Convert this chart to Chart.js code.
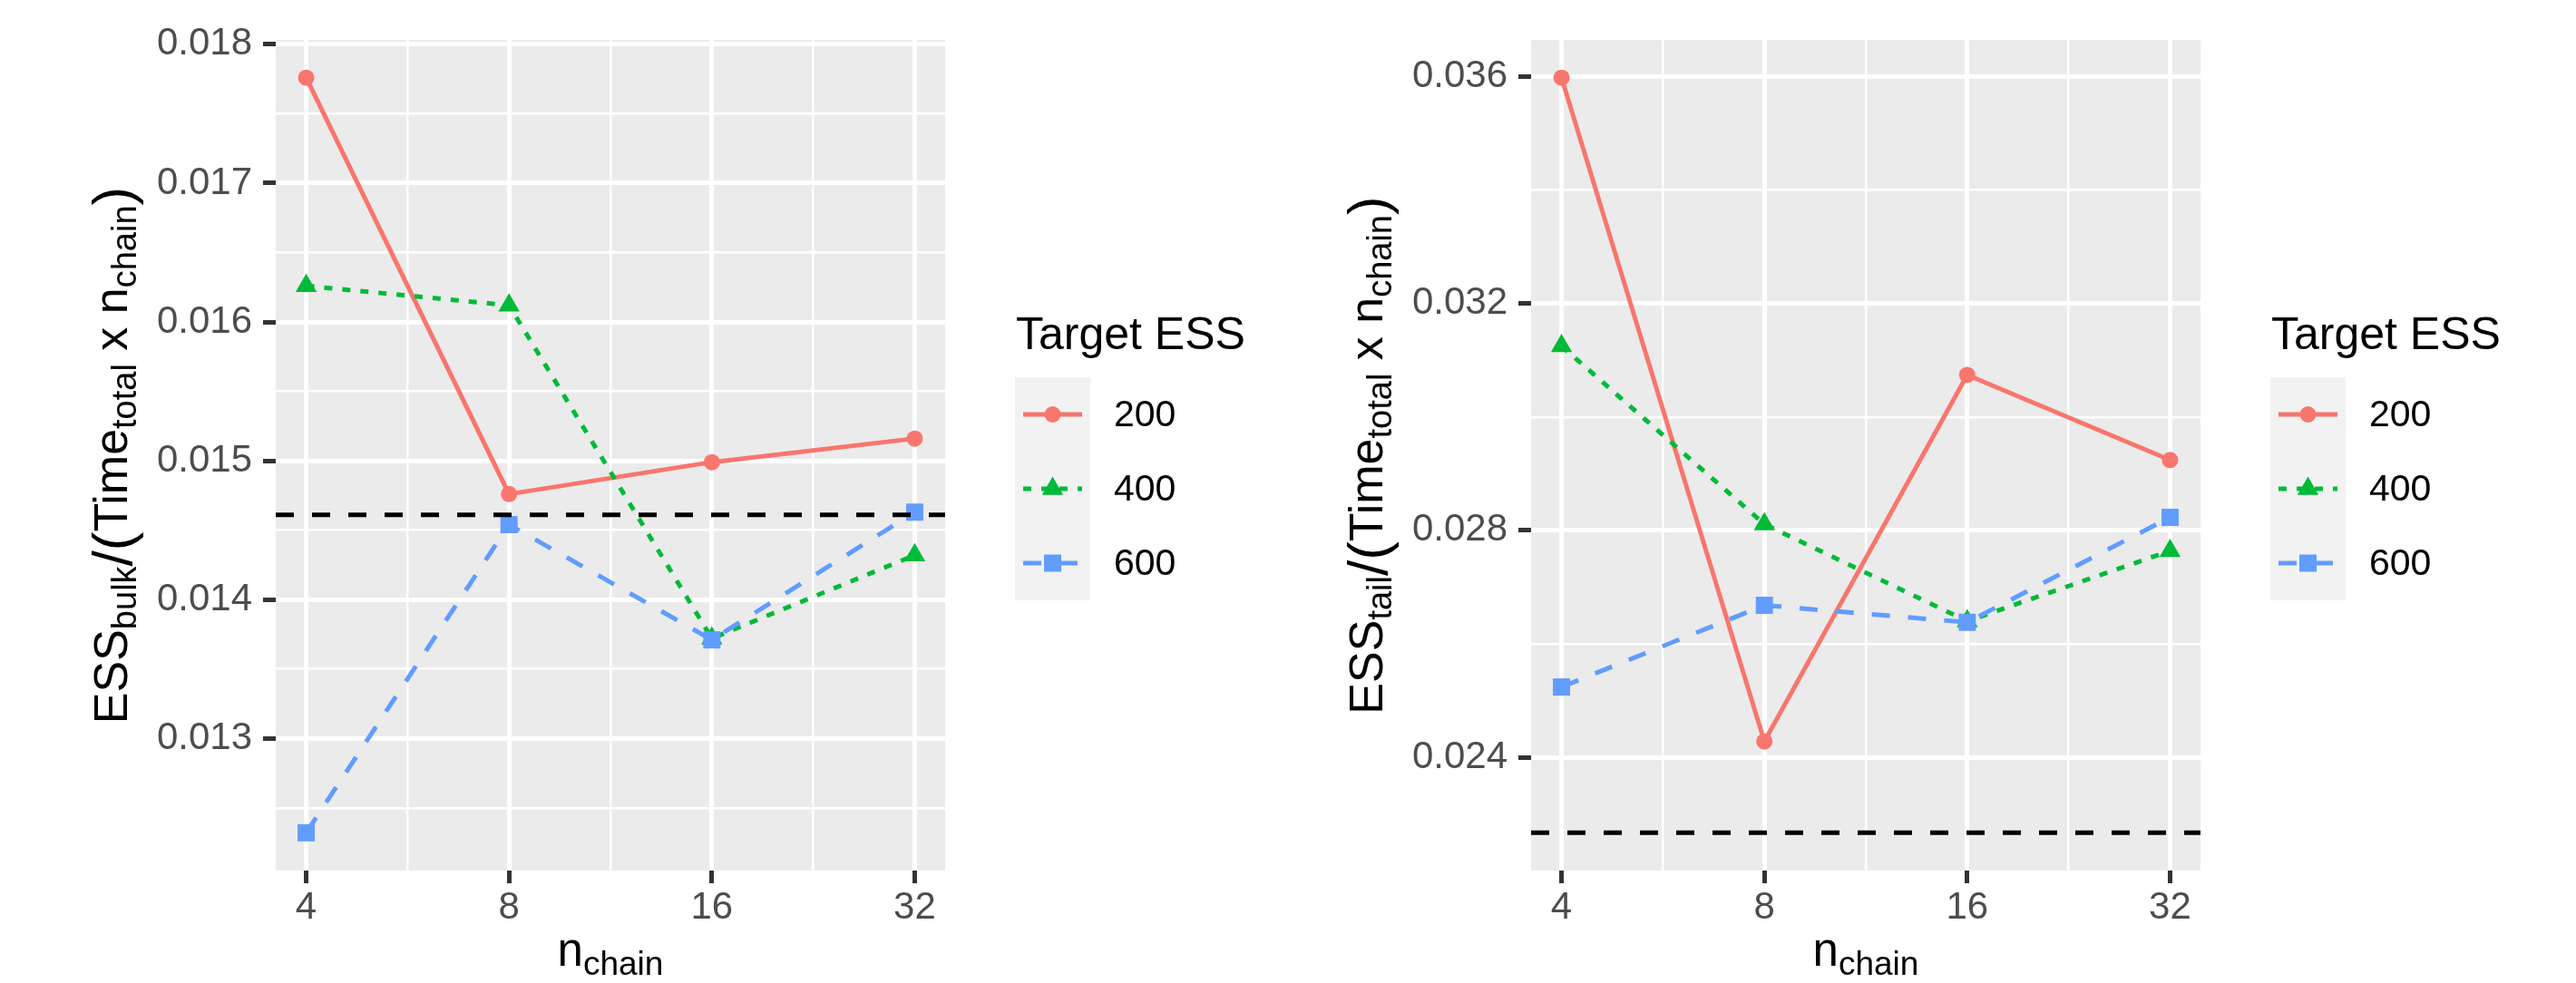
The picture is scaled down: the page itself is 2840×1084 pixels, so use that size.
<!DOCTYPE html>
<html>
<head>
<meta charset="utf-8">
<script src="https://cdn.jsdelivr.net/npm/chart.js@4.4.1/dist/chart.umd.min.js"></script>
<style>
  html, body { margin: 0; padding: 0; background: #fff; }
  #wrap { position: relative; width: 2840px; height: 1084px; }
  canvas { position: absolute; top: 0; }
  #left { left: 0; }
  #right { left: 1384px; }
</style>
</head>
<body>
<div id="wrap">
  <canvas id="left" width="1384" height="1084"></canvas>
  <canvas id="right" width="1456" height="1084"></canvas>
</div>
<script>
// data
const nChain = [4, 8, 16, 32];
const targetEss = ['200', '400', '600'];

const bulk200 = [0.01776, 0.01476, 0.01499, 0.01516];
const bulk400 = [0.01626, 0.01612, 0.01372, 0.01432];
const bulk600 = [0.01232, 0.01454, 0.01371, 0.01463];
const bulkRef = 0.01461;

const tail200 = [0.03598, 0.02428, 0.03074, 0.02924];
const tail400 = [0.03125, 0.02811, 0.02640, 0.02764];
const tail600 = [0.02524, 0.02668, 0.02638, 0.02823];
const tailRef = 0.02267;

const bulkTicks = [0.013, 0.014, 0.015, 0.016, 0.017, 0.018];
const tailTicks = [0.024, 0.028, 0.032, 0.036];
const xTicks = [4, 8, 16, 32];

// look
const colors = ['#F8766D', '#00BA38', '#619CFF'];
const dashes = [[], [9, 11], [20, 20]];
const shapes = ['circle', 'triangle', 'rect'];
const radii = [9, 13.5, 13.4];
const FONT = '"Liberation Sans", Arial, sans-serif';

Chart.defaults.font.family = FONT;

const AREA = { left: 304, top: 44, right: 1042, bottom: 960 };

function drawRich(ctx, parts, x, y) {
  // parts: [text, size, dy]
  let total = 0;
  parts.forEach(p => { ctx.font = p[1] + 'px ' + FONT; total += ctx.measureText(p[0]).width; });
  let cx = x - total / 2;
  ctx.textAlign = 'left';
  ctx.textBaseline = 'alphabetic';
  parts.forEach(p => {
    ctx.font = p[1] + 'px ' + FONT;
    ctx.fillText(p[0], cx, y + p[2]);
    cx += ctx.measureText(p[0]).width;
  });
}

function marker(ctx, i, x, y) {
  const r = radii[i];
  ctx.fillStyle = colors[i];
  ctx.beginPath();
  if (shapes[i] === 'circle') {
    ctx.arc(x, y, r, 0, Math.PI * 2);
  } else if (shapes[i] === 'triangle') {
    ctx.moveTo(x, y - r);
    ctx.lineTo(x + r * Math.sin(2 * Math.PI / 3), y + r / 2);
    ctx.lineTo(x - r * Math.sin(2 * Math.PI / 3), y + r / 2);
    ctx.closePath();
  } else {
    const s = r * Math.SQRT1_2;
    ctx.rect(x - s, y - s, 2 * s, 2 * s);
  }
  ctx.fill();
}

function makeChart(id, series, ref, yTicks, sub) {
  const canvas = document.getElementById(id);

  const all = series.flat().concat([ref]);
  const lo = Math.min(...all), hi = Math.max(...all);
  const pad = (hi - lo) * 0.05;
  const yMin = lo - pad, yMax = hi + pad;
  const step = yTicks[1] - yTicks[0];
  const yAll = yTicks.map(v => ({ value: v, major: true }));
  for (let i = -1; i < yTicks.length; i++) {
    const v = yTicks[0] + (i + 0.5) * step;
    if (v > yMin && v < yMax) yAll.push({ value: v, major: false });
  }

  const lx0 = Math.log2(nChain[0]), lx1 = Math.log2(nChain[nChain.length - 1]);
  const xpad = (lx1 - lx0) * 0.05;
  const xMin = Math.pow(2, lx0 - xpad), xMax = Math.pow(2, lx1 + xpad);
  const xAll = xTicks.map(v => ({ value: v, major: true }));
  for (let i = 0; i < xTicks.length - 1; i++) {
    xAll.push({ value: Math.sqrt(xTicks[i] * xTicks[i + 1]), major: false });
  }

  const lineSets = series.map((vals, i) => ({
    label: targetEss[i],
    data: vals.map((v, j) => ({ x: nChain[j], y: v })),
    borderColor: colors[i],
    backgroundColor: colors[i],
    borderWidth: 5,
    borderDash: dashes[i],
    borderJoinStyle: 'round',
    pointRadius: 0,
    order: 6 - i,
  }));
  const pointSets = series.map((vals, i) => ({
    label: targetEss[i] + ' pts',
    data: vals.map((v, j) => ({ x: nChain[j], y: v })),
    showLine: false,
    pointStyle: shapes[i],
    pointRadius: radii[i],
    pointBorderWidth: 0,
    pointBackgroundColor: colors[i],
    pointBorderColor: colors[i],
    order: 3 - i,
  }));

  const decor = {
    id: 'decor',
    beforeDraw(chart) {
      const { ctx, chartArea: a } = chart;
      ctx.save();
      ctx.fillStyle = '#EBEBEB';
      ctx.fillRect(a.left, a.top, a.right - a.left, a.bottom - a.top);
      ctx.restore();
    },
    afterDatasetsDraw(chart) {
      const { ctx, chartArea: a } = chart;
      const y = chart.scales.y.getPixelForValue(ref);
      ctx.save();
      ctx.beginPath();
      ctx.rect(a.left, a.top, a.right - a.left, a.bottom - a.top);
      ctx.clip();
      ctx.strokeStyle = '#000';
      ctx.lineWidth = 5;
      ctx.setLineDash([20, 20]);
      ctx.beginPath();
      ctx.moveTo(a.left, y);
      ctx.lineTo(a.right, y);
      ctx.stroke();
      ctx.restore();
    },
    afterDraw(chart) {
      const { ctx, chartArea: a } = chart;
      ctx.save();
      ctx.fillStyle = '#000';
      // x title
      drawRich(ctx, [['n', 51, 0], ['chain', 37, 10]], (a.left + a.right) / 2, 1065);
      // y title
      ctx.translate(140, (a.top + a.bottom) / 2);
      ctx.rotate(-Math.PI / 2);
      drawRich(ctx, [
        ['ESS', 52, 0], [sub, 38, 10], ['/', 62, 5], ['(', 62, 5],
        ['Time', 52, 0], ['total', 38, 10], [' x n', 52, 0], ['chain', 38, 10], [')', 62, 5]
      ], 0, 0);
      ctx.restore();

      // legend
      const kx = 1119, ky = 416, kw = 83, kh = 82;
      ctx.save();
      ctx.fillStyle = '#000';
      ctx.font = '50px ' + FONT;
      ctx.textAlign = 'left';
      ctx.textBaseline = 'alphabetic';
      ctx.fillText('Target ESS', 1120, 385);
      ctx.fillStyle = '#F2F2F2';
      ctx.fillRect(kx, ky, kw, kh * 3);
      targetEss.forEach((lab, i) => {
        const cy = ky + kh * i + kh / 2;
        ctx.save();
        ctx.strokeStyle = colors[i];
        ctx.lineWidth = 5;
        ctx.setLineDash(dashes[i]);
        ctx.beginPath();
        ctx.moveTo(kx + 9, cy);
        ctx.lineTo(kx + kw - 9, cy);
        ctx.stroke();
        ctx.restore();
        marker(ctx, i, kx + kw / 2, cy);
        ctx.fillStyle = '#000';
        ctx.font = '41px ' + FONT;
        ctx.textBaseline = 'middle';
        ctx.fillText(lab, 1228, cy + 2);
      });
      ctx.restore();
    }
  };

  return new Chart(canvas, {
    type: 'line',
    data: { datasets: lineSets.concat(pointSets) },
    plugins: [decor],
    options: {
      responsive: false,
      animation: false,
      events: [],
      layout: { padding: { top: AREA.top, right: canvas.width - AREA.right, bottom: 0, left: 0 } },
      plugins: { legend: { display: false }, tooltip: { enabled: false } },
      scales: {
        x: {
          type: 'logarithmic',
          min: xMin,
          max: xMax,
          bounds: 'data',
          afterBuildTicks: s => { s.ticks = xAll.map(t => ({ ...t })); },
          afterFit: s => { s.height = 1084 - AREA.bottom; },
          border: { display: false },
          grid: {
            color: '#FFFFFF',
            lineWidth: c => (c.tick && c.tick.major ? 5 : 2.5),
            tickLength: 14,
            tickWidth: 5,
            tickColor: c => (c.tick && c.tick.major ? '#333333' : 'rgba(0,0,0,0)'),
          },
          ticks: {
            autoSkip: false,
            maxRotation: 0,
            minRotation: 0,
            padding: 2,
            color: '#4D4D4D',
            font: { size: 42 },
            callback: (v, i, t) => (t[i].major ? String(v) : ''),
          },
        },
        y: {
          type: 'linear',
          min: yMin,
          max: yMax,
          bounds: 'data',
          afterBuildTicks: s => { s.ticks = yAll.map(t => ({ ...t })); },
          afterFit: s => { s.width = AREA.left; },
          border: { display: false },
          grid: {
            color: '#FFFFFF',
            lineWidth: c => (c.tick && c.tick.major ? 5 : 2.5),
            tickLength: 14,
            tickWidth: 5,
            tickColor: c => (c.tick && c.tick.major ? '#333333' : 'rgba(0,0,0,0)'),
          },
          ticks: {
            autoSkip: false,
            padding: 12,
            color: '#4D4D4D',
            font: { size: 42 },
            callback: (v, i, t) => (t[i].major ? v.toFixed(3) : ''),
          },
        },
      },
    },
  });
}

makeChart('left', [bulk200, bulk400, bulk600], bulkRef, bulkTicks, 'bulk');
makeChart('right', [tail200, tail400, tail600], tailRef, tailTicks, 'tail');
</script>
</body>
</html>
